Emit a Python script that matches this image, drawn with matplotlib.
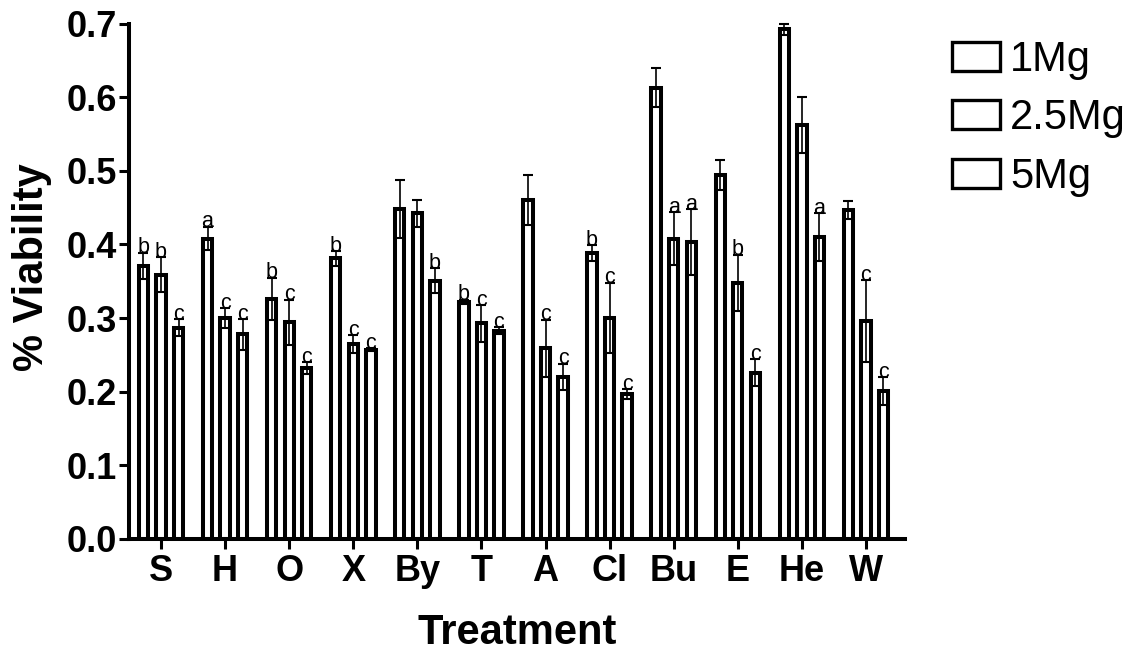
import matplotlib
matplotlib.use('Agg')
import matplotlib.pyplot as plt
import numpy as np
from matplotlib.patches import Patch

categories = ['S', 'H', 'O', 'X', 'By', 'T', 'A', 'Cl', 'Bu', 'E', 'He', 'W']
series_names = ['1Mg', '2.5Mg', '5Mg']

mean_1mg = [0.371, 0.408, 0.326, 0.381, 0.448, 0.322, 0.460, 0.388, 0.613, 0.494, 0.692, 0.447]
mean_25mg = [0.359, 0.300, 0.294, 0.265, 0.442, 0.293, 0.259, 0.300, 0.408, 0.348, 0.562, 0.296]
mean_5mg = [0.287, 0.278, 0.232, 0.257, 0.351, 0.283, 0.220, 0.197, 0.403, 0.226, 0.410, 0.201]

err_1mg = [0.018, 0.016, 0.029, 0.010, 0.039, 0.003, 0.034, 0.011, 0.026, 0.020, 0.007, 0.012]
err_25mg = [0.024, 0.013, 0.031, 0.012, 0.019, 0.025, 0.039, 0.048, 0.036, 0.038, 0.038, 0.056]
err_5mg = [0.012, 0.021, 0.008, 0.002, 0.017, 0.005, 0.018, 0.007, 0.045, 0.018, 0.032, 0.019]

letters_1mg = ['b', 'a', 'b', 'b', '', 'b', '', 'b', '', '', '', '']
letters_25mg = ['b', 'c', 'c', 'c', '', 'c', 'c', 'c', 'a', 'b', '', 'c']
letters_5mg = ['c', 'c', 'c', 'c', 'b', 'c', 'c', 'c', 'a', 'c', 'a', 'c']

yticks = [0.0, 0.1, 0.2, 0.3, 0.4, 0.5, 0.6, 0.7]

means = [mean_1mg, mean_25mg, mean_5mg]
errs = [err_1mg, err_25mg, err_5mg]
letters = [letters_1mg, letters_25mg, letters_5mg]

plt.rcParams['font.family'] = ['Liberation Sans', 'DejaVu Sans']

W, H = 1134, 652
fig = plt.figure(figsize=(W / 100, H / 100), dpi=100)
ax = fig.add_axes([129 / W, 1 - 539 / H, 776 / W, 515.5 / H])

x = np.arange(len(categories))
offsets = [-0.274, 0.0, 0.274]
width = 0.146

for k in range(3):
    xs = x + offsets[k]
    ax.bar(xs, means[k], width=width, color='white', edgecolor='black',
           linewidth=2.9, zorder=2)
    ax.errorbar(xs, means[k], yerr=errs[k], fmt='none', ecolor='black',
                elinewidth=1.2, capsize=3.6, capthick=1.5, zorder=3, clip_on=False)
    for xi, m, e, l in zip(xs, means[k], errs[k], letters[k]):
        if l:
            ax.text(xi, m + e - 0.001, l, ha='center', va='baseline',
                    fontsize=15.5, zorder=4)

ax.set_xlim(-0.5, 11.61)
ax.set_ylim(0, 0.7)
ax.set_yticks(yticks)
ax.set_yticklabels([f'{v:.1f}' for v in yticks], fontsize=26, fontweight='bold')
ax.set_xticks(x)
ax.set_xticklabels(categories, fontsize=26, fontweight='bold')
ax.tick_params(axis='y', length=7.5, width=2.2, pad=1.5)
ax.tick_params(axis='x', length=7.5, width=2.2, pad=3.5)

for s in ['top', 'right']:
    ax.spines[s].set_visible(False)
for s in ['left', 'bottom']:
    ax.spines[s].set_linewidth(2.9)

ax.set_xlabel('Treatment', fontsize=30, fontweight='bold')
ax.set_ylabel('% Viability', fontsize=30, fontweight='bold')
ax.xaxis.set_label_coords(0.5, -0.143)
ax.yaxis.set_label_coords(-0.099, 0.528)

handles = [Patch(facecolor='white', edgecolor='black', linewidth=2.4) for _ in series_names]
fig.legend(handles, series_names, loc='upper left',
           bbox_to_anchor=(952 / W, 1 - 40 / H), frameon=False,
           fontsize=30, handlelength=1.14, handleheight=0.69,
           handletextpad=0.25, labelspacing=0.44, borderpad=0, borderaxespad=0)

fig.savefig('out.png', dpi=100)
